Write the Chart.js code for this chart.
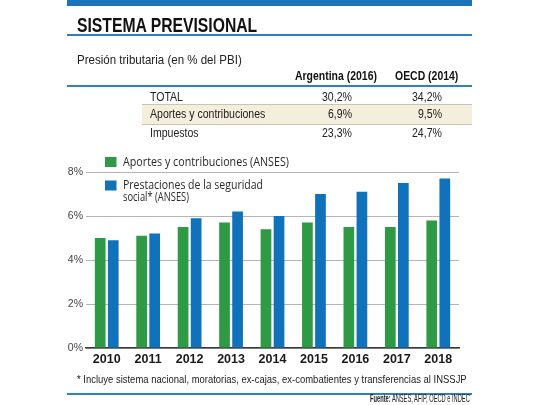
<!DOCTYPE html>
<html>
<head>
<meta charset="utf-8">
<script src="https://cdn.jsdelivr.net/npm/chart.js@4.4.1/dist/chart.umd.min.js"></script>
<style>
  html, body { margin: 0; padding: 0; background: #fff; }
  #wrap { position: relative; width: 540px; height: 405px; overflow: hidden; font-family: "Liberation Sans", Arial, sans-serif; }
  #box { position: absolute; left: 0; top: 0; width: 540px; height: 405px; }
  .t { position: absolute; white-space: nowrap; line-height: 1; transform-origin: 0 50%; }
  .rule { position: absolute; left: 67px; width: 405px; background: #2f7fc1; }
</style>
</head>
<body>
<div id="wrap">
  <div class="rule" style="top:0;height:5.5px;background:#1d73b9"></div>
  <div class="rule" style="top:33.5px;height:2px"></div>
  <div class="rule" style="top:85px;height:1.5px"></div>
  <div style="position:absolute;left:142px;top:103.5px;width:330px;height:19px;background:#f4eedc;border-top:1px solid #cbc4b0;border-bottom:1px solid #cbc4b0"></div>
  <div class="rule" style="top:393px;height:2px"></div>
  <div id="box"><canvas id="chart"></canvas></div>
</div>
<script>
// Sistema previsional - aportes vs prestaciones (% del PBI)
const years = ['2010', '2011', '2012', '2013', '2014', '2015', '2016', '2017', '2018'];
const aportes = [5.0, 5.1, 5.5, 5.7, 5.4, 5.7, 5.5, 5.5, 5.8];
const prestaciones = [4.9, 5.2, 5.9, 6.2, 6.0, 7.0, 7.1, 7.5, 7.7];
const yTicks = [0, 2, 4, 6, 8];

const legendLines = [
  ['Aportes y contribuciones (ANSES)'],
  ['Prestaciones de la seguridad', 'social* (ANSES)']
];

// Presión tributaria table
const taxRows = ['TOTAL', 'Aportes y contribuciones', 'Impuestos'];
const argentina2016 = [30.2, 6.9, 23.3];
const oecd2014 = [34.2, 9.5, 24.7];

const COLORS = {
  green: '#2f9a45',
  blue: '#0f72ba',
  text: '#222'
};

function pct(v) {
  return v.toFixed(1).replace('.', ',') + '%';
}

function addText(str, x, cy, size, weight, color, opts) {
  const el = document.createElement('div');
  el.className = 't';
  el.innerHTML = str;
  el.style.fontSize = size + 'px';
  el.style.fontWeight = weight;
  el.style.color = color;
  el.style.top = (cy - size * 0.5) + 'px';
  document.getElementById('wrap').appendChild(el);
  const w = el.offsetWidth;
  const s = opts.width ? opts.width / w : opts.scale;
  el.style.left = (opts.right ? x - w * s : x) + 'px';
  el.style.transform = 'scaleX(' + s + ')';
  return s;
}

function buildTexts() {
  addText('SISTEMA PREVISIONAL', 76.5, 25, 20, 700, '#111', { width: 180 });
  addText('Presión tributaria (en % del PBI)', 76.5, 59, 13, 400, COLORS.text, { width: 165 });

  const hs = addText('Argentina (2016)', 295, 76.5, 12.5, 700, '#111', { width: 82 });
  addText('OECD (2014)', 458.5, 76.5, 12.5, 700, '#111', { right: true, scale: hs });

  const rowY = [96.5, 114, 132.5];
  const bs = addText(taxRows[1], 150, rowY[1], 12, 400, COLORS.text, { width: 115 });
  taxRows.forEach((r, i) => {
    if (i !== 1) addText(r, 150, rowY[i], 12, 400, COLORS.text, { scale: bs });
    addText(pct(argentina2016[i]), 352, rowY[i], 12, 400, COLORS.text, { right: true, scale: bs });
    addText(pct(oecd2014[i]), 442, rowY[i], 12, 400, COLORS.text, { right: true, scale: bs });
  });

  addText('* Incluye sistema nacional, moratorias, ex-cajas, ex-combatientes y transferencias al INSSJP',
    77, 380, 11.5, 400, COLORS.text, { width: 390 });
  addText('<b>Fuente:</b> ANSES, AFIP, OECD e INDEC', 470, 398.5, 10.5, 400, COLORS.text, { right: true, width: 100 });
}

const legendWidths = [[166], [140, 66]];

const insideLegend = {
  id: 'insideLegend',
  afterDraw(chart) {
    const ctx = chart.ctx;
    ctx.save();
    ctx.font = '12.5px "Open Sans"';
    ctx.textBaseline = 'middle';
    chart.data.datasets.forEach((ds, i) => {
      const top = 157 + i * 23.5;
      ctx.fillStyle = ds.backgroundColor;
      ctx.fillRect(105, top, 11.5, 10);
      ctx.fillStyle = '#2a2a2a';
      legendLines[i].forEach((line, j) => {
        ctx.fillText(line, 123, top + 5 + j * 11.5, legendWidths[i][j]);
      });
    });
    ctx.restore();
  }
};

function initChart() {
  const ctx = document.getElementById('chart');
  new Chart(ctx, {
    type: 'bar',
    data: {
      labels: years,
      datasets: [{
        label: legendLines[0].join(' '),
        data: aportes,
        backgroundColor: COLORS.green
      }, {
        label: legendLines[1].join(' '),
        data: prestaciones,
        backgroundColor: COLORS.blue
      }]
    },
    options: {
      responsive: true,
      maintainAspectRatio: false,
      animation: false,
      categoryPercentage: 0.63,
      barPercentage: 0.82,
      layout: { padding: { left: 60, right: 81, top: 172, bottom: 35 } },
      plugins: { legend: { display: false }, tooltip: { enabled: false } },
      scales: {
        x: {
          grid: { display: false, drawTicks: false },
          border: { color: '#3a3a3a', width: 1.5 },
          ticks: { color: '#1a1a1a', padding: 4, font: { family: 'Liberation Sans', size: 12.5, weight: 'bold' } },
          afterFit(s) { s.height = 22; }
        },
        y: {
          min: yTicks[0],
          max: yTicks[yTicks.length - 1],
          afterBuildTicks(s) { s.ticks = yTicks.map(v => ({ value: v })); },
          ticks: { color: '#444', padding: 3, callback: v => v + '%', font: { family: 'Liberation Sans', size: 10.5 } },
          grid: { color: '#b5b5b5', lineWidth: 1, drawTicks: false },
          border: { display: false },
          afterFit(s) { s.width = 26; }
        }
      }
    },
    plugins: [insideLegend]
  });
}

document.addEventListener('DOMContentLoaded', function() {
  document.fonts.ready.then(function() {
    buildTexts();
    initChart();
  });
});
</script>
</body>
</html>
